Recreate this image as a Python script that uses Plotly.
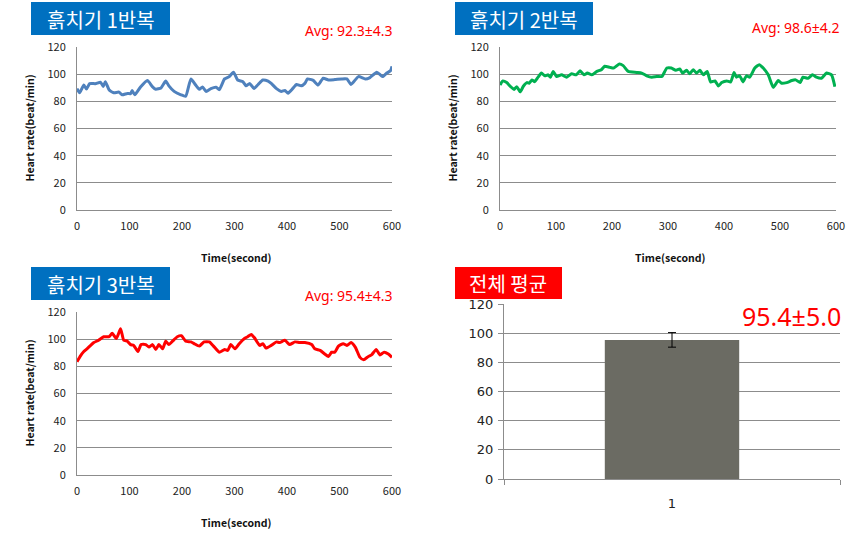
import plotly.graph_objects as go

# ---------------- data ----------------
t1 = [0, 5, 13, 18, 24, 35, 45, 50, 54, 61, 70, 80, 86, 96, 102, 105, 110, 121, 134, 144, 150, 160, 169, 175,
      185, 198, 207, 217, 226, 233, 239, 246, 255, 265, 271, 281, 290, 298, 306, 316, 322, 329, 337, 345, 354,
      364, 370, 380, 389, 396, 402, 412, 418, 427, 434, 439, 450, 459, 469, 479, 491, 504, 514, 522, 536, 549,
      558, 571, 582, 590, 597, 600]
hr1 = [89.4, 86.3, 92, 89, 93, 93, 94, 91, 94.4, 88.6, 86.3, 86.8, 84.8, 85.8, 85.6, 88, 84.8, 90.6, 95.4, 90.6,
       88.9, 89.9, 94.9, 91.4, 87.3, 84.8, 83.8, 96.5, 92, 88.9, 90.6, 87.3, 89.4, 90.4, 88.6, 96.5, 98.2, 101.5,
       95.7, 94.4, 91.4, 93.2, 89.4, 92.4, 95.7, 94.9, 93.2, 89.4, 87.3, 88, 86, 89.9, 92.4, 91.4, 93.2, 96.5, 95.4,
       92, 97, 95.7, 96, 96.5, 96.5, 92.4, 98.2, 96.5, 97.5, 101.5, 98.2, 100.8, 102.5, 105.8]

t2 = [0, 5, 12, 19, 25, 30, 36, 42, 48, 52, 57, 62, 68, 74, 80, 86, 90, 95, 101, 110, 119, 128, 136, 143, 150,
      156, 164, 173, 181, 187, 196, 203, 213, 220, 229, 244, 253, 262, 271, 280, 289, 298, 306, 314, 321, 326,
      333, 339, 345, 351, 357, 363, 370, 376, 384, 390, 396, 405, 412, 418, 422, 428, 434, 440, 446, 455, 463,
      470, 479, 488, 497, 503, 512, 521, 528, 536, 541, 550, 558, 565, 574, 583, 592, 598]
hr2 = [92, 95, 93.8, 90.8, 88.8, 90.8, 87, 91.3, 93.8, 93.3, 95.8, 94.5, 97.8, 100.8, 98.8, 99.5, 97.8, 102, 98.3,
       99.5, 97.8, 100.3, 99.5, 102.5, 99.5, 100.8, 99.5, 102, 103.3, 105.8, 105, 104.5, 107.5, 106.3, 102, 101.3,
       100.8, 98.8, 97.8, 98.3, 98.3, 104.5, 104.5, 102.8, 103.8, 100.8, 102.8, 100.3, 103.3, 100.8, 102.8, 99.5,
       102, 94.3, 95, 91.3, 93.8, 95, 94.3, 101.3, 97.8, 98.8, 94.3, 98.8, 97.8, 104.5, 107, 104.5, 99.5, 90.3,
       95.3, 93.3, 93.8, 95.3, 95.8, 93.8, 97.8, 97, 99.5, 97.8, 97, 100.8, 99.5, 90.8]

t3 = [0, 6, 13, 19, 26, 32, 41, 51, 61, 67, 75, 83, 89, 96, 102, 108, 116, 122, 131, 137, 144, 150, 156, 163,
      169, 175, 182, 191, 199, 207, 217, 223, 233, 242, 252, 260, 271, 281, 287, 293, 301, 309, 319, 325, 332,
      338, 348, 354, 360, 370, 380, 386, 396, 405, 415, 424, 434, 447, 453, 463, 472, 479, 485, 491, 498, 507,
      514, 522, 530, 539, 546, 555, 561, 570, 577, 585, 593, 600]
hr3 = [83.3, 87.3, 90.9, 92.9, 95.4, 97.5, 99.2, 101.8, 101.8, 104.3, 100.5, 107.6, 99.2, 98.5, 96, 95.4, 90.9,
       96, 96, 94.2, 96, 92.4, 96, 92.9, 98.5, 96, 98.5, 101.8, 102.5, 98.5, 98, 96.7, 94.9, 98, 98, 94.9, 90.4,
       92.4, 91.7, 96, 92.9, 96.7, 100.5, 101.8, 103.5, 101, 95.4, 96.7, 93.4, 95.4, 98, 97.5, 99.2, 96, 98, 97.5,
       97.5, 96, 92.9, 91.7, 89.1, 87.3, 90.4, 90.4, 94.9, 96.7, 95.4, 97.5, 94.2, 86.6, 84.8, 87.3, 88.4, 92.4,
       88.4, 90.4, 89.1, 86.6]

bar_cat = [1]
bar_cat_labels = ["1"]
bar_mean = [95.4]
bar_sd = [5.0]

titles = ["흙치기 1반복", "흙치기 2반복", "흙치기 3반복", "전체 평균"]
avg_texts = ["Avg: 92.3±4.3", "Avg: 98.6±4.2", "Avg: 95.4±4.3", "95.4±5.0"]
y_ticks = [0, 20, 40, 60, 80, 100, 120]
x_ticks = [0, 100, 200, 300, 400, 500, 600]

# ---------------- layout helpers ----------------
W, H = 864, 547
def px(x):
    return x / W
def py(y):
    return 1 - y / H

FONT = "Noto Sans CJK KR"
LATIN = "Noto Sans"
GRID = "#8c8c8c"

fig = go.Figure()

panels = [
    dict(t=t1, v=hr1, color="#4F81BD", x0=77, x1=392, y0=47, y1=210),
    dict(t=t2, v=hr2, color="#00B050", x0=500, x1=836, y0=47, y1=210),
    dict(t=t3, v=hr3, color="#FF0000", x0=77, x1=392, y0=312, y1=475),
]

def note(x, y, text, size, color, family=FONT, **kw):
    fig.add_annotation(x=px(x), y=py(y), xref="paper", yref="paper", text=text, showarrow=False,
                       xanchor=kw.pop("xanchor", "center"), yanchor="middle",
                       font=dict(family=family, size=size, color=color), **kw)

for i, p in enumerate(panels):
    n = "" if i == 0 else str(i + 1)
    fig.add_trace(go.Scatter(x=p["t"], y=p["v"], mode="lines",
                             line=dict(color=p["color"], width=3, shape="spline", smoothing=0.5),
                             xaxis="x" + n, yaxis="y" + n, showlegend=False, hoverinfo="skip"))
    fig.update_layout(**{
        "xaxis" + n: dict(domain=[px(p["x0"]), px(p["x1"])], anchor="y" + n, range=[0, 600],
                          tickvals=x_ticks, showgrid=False, zeroline=False, showline=True,
                          linecolor=GRID, linewidth=1, ticks="", automargin=False,
                          ticklabelstandoff=6,
                          tickfont=dict(family=FONT, size=11, color="#222")),
        "yaxis" + n: dict(domain=[py(p["y1"]), py(p["y0"])], anchor="x" + n, range=[0, 120],
                          tickvals=y_ticks, showgrid=True, gridcolor=GRID, gridwidth=1, zeroline=False,
                          showline=True, linecolor=GRID, linewidth=1, ticks="", automargin=False,
                          ticklabelstandoff=8,
                          tickfont=dict(family=FONT, size=11, color="#222")),
    })
    note((p["x0"] + p["x1"]) / 2 + 2, p["y1"] + 47, "<b>Time(second)</b>", 10.5, "#111")
    note(p["x0"] - 48, (p["y0"] + p["y1"]) / 2, "<b>Heart rate(beat/min)</b>", 10.5, "#111", textangle=-90)

# bar panel
fig.add_trace(go.Bar(x=bar_cat, y=bar_mean, width=0.4, marker=dict(color="#6B6B63", line=dict(width=0)),
                     error_y=dict(type="data", array=bar_sd, color="#000", thickness=1, width=4),
                     xaxis="x4", yaxis="y4", showlegend=False, hoverinfo="skip"))
fig.update_layout(
    xaxis4=dict(domain=[px(504), px(840)], anchor="y4", range=[0.5, 1.5], type="linear",
                tickvals=bar_cat, ticktext=bar_cat_labels, ticks="", showline=True, linecolor=GRID, linewidth=1,
                showgrid=False, zeroline=False, ticklabelstandoff=12, automargin=False,
                minor=dict(tickvals=[0.5, 1.5], ticks="outside", ticklen=5, tickcolor=GRID),
                tickfont=dict(family="DejaVu Sans", size=13, color="#222")),
    yaxis4=dict(domain=[py(479), py(304)], anchor="x4", range=[0, 120], tickvals=y_ticks,
                showgrid=True, gridcolor=GRID, zeroline=False, showline=True, linecolor=GRID,
                ticks="outside", ticklen=5, tickcolor=GRID, automargin=False, ticklabelstandoff=2,
                tickfont=dict(family="DejaVu Sans", size=13, color="#222")),
)

# title boxes
boxes = [(31, 170, 2, 35, "#0070C0"), (455, 593, 2, 35, "#0070C0"),
         (31, 170, 267, 300, "#0070C0"), (455, 562, 267, 299, "#FF0000")]
for (bx0, bx1, by0, by1, col), txt in zip(boxes, titles):
    fig.add_shape(type="rect", xref="paper", yref="paper", x0=px(bx0), x1=px(bx1), y0=py(by1), y1=py(by0),
                  fillcolor=col, line=dict(width=0), layer="above")
    note((bx0 + bx1) / 2, (by0 + by1) / 2 + 1, txt, 20, "white")

# average labels
avg_pos = [(395, 31, 14), (842, 27, 14), (395, 295, 14), (843, 316, 25)]
for (ax, ay, fs), txt in zip(avg_pos, avg_texts):
    note(ax, ay, txt, fs, "#FF0000", family=LATIN, xanchor="right")

fig.update_layout(width=W, height=H, margin=dict(l=0, r=0, t=0, b=0, pad=0, autoexpand=False),
                  paper_bgcolor="white", plot_bgcolor="white")

fig.write_html("out.html", config={"displayModeBar": False},
               post_script="document.body.style.margin='0';document.body.style.overflow='hidden';")
